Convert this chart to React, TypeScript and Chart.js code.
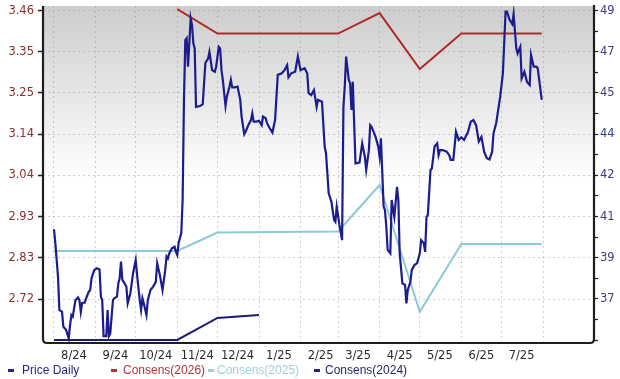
import React, { useEffect, useRef } from "react";
import { Chart, registerables } from "chart.js";

Chart.register(...registerables);

// x values are day offsets from 2024-08-01
const priceDays = [
  0, 1, 3, 4, 6, 7, 9, 11, 12, 13, 14, 16, 18, 19, 20, 21, 23, 24, 26, 27, 28, 30, 32, 34, 35, 36, 37, 39, 40, 41,
  42, 44, 45, 47, 48, 49, 50, 51, 52, 54, 55, 57, 59, 61, 62, 64, 65, 66, 67, 69, 70, 72, 74, 76, 77, 79, 81, 83, 84, 85,
  86, 88, 90, 91, 92, 93, 95, 96, 97, 98, 99, 100, 101, 102, 103, 104, 105, 106, 109, 111, 113, 115, 116, 118, 120, 121, 123, 124, 125, 126,
  128, 129, 131, 132, 133, 135, 137, 139, 140, 142, 143, 145, 147, 148, 149, 151, 153, 155, 156, 158, 159, 161, 163, 165, 167, 170, 172, 174, 175, 177,
  180, 182, 184, 187, 189, 190, 192, 194, 196, 197, 200, 202, 203, 205, 207, 209, 210, 211, 213, 215, 216, 217, 218, 220, 221, 222, 223, 225, 228, 230,
  232, 233, 235, 236, 237, 240, 242, 243, 244, 246, 247, 248, 249, 251, 252, 254, 256, 257, 258, 260, 262, 263, 264, 266, 267, 269, 271, 273, 274, 276,
  277, 278, 279, 281, 282, 284, 286, 287, 288, 290, 293, 295, 296, 298, 300, 302, 304, 306, 309, 311, 313, 315, 317, 319, 321, 323, 325, 327, 328, 330,
  333, 335, 337, 338, 340, 342, 343, 345, 346, 348, 349, 351, 353, 355, 356, 358, 360, 361, 364,
];
const priceValues = [
  2.899, 2.864, 2.777, 2.692, 2.687, 2.649, 2.641, 2.619, 2.653, 2.679, 2.675, 2.717, 2.724, 2.717, 2.687, 2.71, 2.711, 2.722, 2.739, 2.743, 2.773, 2.794, 2.799, 2.796, 2.726, 2.717, 2.625, 2.625, 2.692, 2.625,
  2.632, 2.717, 2.722, 2.726, 2.76, 2.773, 2.816, 2.769, 2.764, 2.752, 2.709, 2.735, 2.786, 2.82, 2.782, 2.717, 2.692, 2.722, 2.709, 2.679, 2.717, 2.743, 2.752, 2.764, 2.812, 2.782, 2.743, 2.794, 2.829, 2.824,
  2.837, 2.85, 2.854, 2.841, 2.833, 2.864, 2.889, 2.974, 3.231, 3.384, 3.389, 3.316, 3.376, 3.44, 3.423, 3.376, 3.363, 3.213, 3.215, 3.22, 3.326, 3.337, 3.354, 3.307, 3.303, 3.316, 3.367, 3.363, 3.307, 3.282,
  3.215, 3.239, 3.265, 3.282, 3.263, 3.263, 3.265, 3.231, 3.188, 3.143, 3.149, 3.166, 3.179, 3.196, 3.175, 3.175, 3.177, 3.166, 3.188, 3.184, 3.171, 3.158, 3.147, 3.179, 3.295, 3.299, 3.307, 3.32, 3.289, 3.299,
  3.303, 3.342, 3.307, 3.312, 3.299, 3.248, 3.243, 3.256, 3.213, 3.231, 3.226, 3.111, 3.094, 2.991, 2.97, 2.923, 2.918, 2.957, 2.91, 2.871, 3.213, 3.265, 3.342, 3.282, 3.273, 3.205, 3.277, 3.068, 3.07, 3.119,
  3.085, 3.051, 3.102, 3.166, 3.162, 3.136, 3.111, 3.085, 3.132, 2.957, 2.948, 2.906, 2.846, 2.837, 2.974, 2.931, 3.008, 2.974, 2.837, 2.76, 2.756, 2.709, 2.743, 2.764, 2.794, 2.807, 2.812, 2.837, 2.871, 2.863,
  2.841, 2.931, 2.936, 3.051, 3.055, 3.111, 3.119, 3.089, 3.102, 3.102, 3.098, 3.089, 3.077, 3.077, 3.149, 3.128, 3.135, 3.128, 3.149, 3.175, 3.179, 3.166, 3.124, 3.136, 3.098, 3.081, 3.078, 3.098, 3.145, 3.171,
  3.239, 3.299, 3.457, 3.457, 3.436, 3.425, 3.451, 3.363, 3.35, 3.367, 3.286, 3.303, 3.277, 3.269, 3.346, 3.316, 3.316, 3.312, 3.231,
];

const cons2026Days = [92, 122, 212, 243, 273, 304, 364];
const cons2026Values = [48.77, 47.8, 47.8, 48.61, 46.4, 47.8, 47.8];
const cons2025Days = [0, 92, 122, 212, 243, 273, 304, 364];
const cons2025Values = [39.2, 39.2, 39.93, 39.97, 41.81, 36.79, 39.48, 39.48];
const cons2024Days = [0, 92, 122, 153];
const cons2024Values = [35.68, 35.68, 36.55, 36.67];

const monthStartDays = [0, 31, 61, 92, 122, 153, 184, 212, 243, 273, 304, 334, 365];
const monthLabels = ["8/24", "9/24", "10/24", "11/24", "12/24", "1/25", "2/25", "3/25", "4/25", "5/25", "6/25", "7/25", ""];

const priceTickValues = [2.72, 2.8257, 2.9314, 3.0371, 3.1429, 3.2486, 3.3543, 3.46];
const priceTickLabels = ["2.72", "2.83", "2.93", "3.04", "3.14", "3.25", "3.35", "3.46"];
const consTickValues = [37.3, 38.93, 40.56, 42.19, 43.82, 45.45, 47.08, 48.71];
const consTickLabels = ["37", "39", "41", "42", "44", "45", "47", "49"];

const legendItems = [
  { label: "Price Daily", color: "#26268a", dash: 8, text: 22 },
  { label: "Consens(2026)", color: "#b03434", dash: 111, text: 123 },
  { label: "Consens(2025)", color: "#9fcfdc", dash: 208, text: 217 },
  { label: "Consens(2024)", color: "#26266e", dash: 314, text: 325 },
];

const toXY = (xs: number[], ys: number[]) => xs.map((x, i) => ({ x, y: ys[i] }));

const bgPlugin = {
  id: "bgPlugin",
  beforeDraw(chart: any) {
    const { ctx, chartArea } = chart;
    const { left, top, right, bottom } = chartArea;
    const g = ctx.createLinearGradient(0, top, 0, bottom);
    g.addColorStop(0, "#cdcdcd");
    g.addColorStop(0.52, "#ffffff");
    g.addColorStop(1, "#ffffff");
    ctx.save();
    ctx.fillStyle = g;
    ctx.fillRect(left, top, right - left, bottom - top);
    ctx.restore();
  },
  afterDraw(chart: any) {
    const { ctx, chartArea } = chart;
    const { left, top, right, bottom } = chartArea;
    const r = 4;
    ctx.save();
    ctx.strokeStyle = "#1e1e1e";
    ctx.lineWidth = 2.2;
    ctx.beginPath();
    ctx.moveTo(left, top);
    ctx.lineTo(left, bottom - r);
    ctx.quadraticCurveTo(left, bottom, left + r, bottom);
    ctx.lineTo(right - r, bottom);
    ctx.quadraticCurveTo(right, bottom, right, bottom - r);
    ctx.lineTo(right, top - 1);
    ctx.stroke();
    ctx.restore();
  },
};

export default function App() {
  const ref = useRef<HTMLCanvasElement | null>(null);

  useEffect(() => {
    if (!ref.current) return;
    const consStep = (consTickValues[1] - consTickValues[0]) / 4;
    const gridColor = "rgba(150,150,150,0.45)";
    const chart = new Chart(ref.current, {
      type: "line",
      data: {
        datasets: [
          {
            label: "Price Daily",
            data: toXY(priceDays, priceValues),
            yAxisID: "y",
            borderColor: "#1c1c8e",
            borderWidth: 2.2,
            pointRadius: 0,
            tension: 0,
          },
          {
            label: "Consens(2026)",
            data: toXY(cons2026Days, cons2026Values),
            yAxisID: "y1",
            borderColor: "#b02a2a",
            borderWidth: 2,
            pointRadius: 0,
          },
          {
            label: "Consens(2025)",
            data: toXY(cons2025Days, cons2025Values),
            yAxisID: "y1",
            borderColor: "#8ccad8",
            borderWidth: 2,
            pointRadius: 0,
          },
          {
            label: "Consens(2024)",
            data: toXY(cons2024Days, cons2024Values),
            yAxisID: "y1",
            borderColor: "#1c1c78",
            borderWidth: 2,
            pointRadius: 0,
          },
        ],
      },
      options: {
        animation: false,
        responsive: false,
        devicePixelRatio: 1,
        layout: { padding: { top: 6, left: 0, right: 0, bottom: 0 } },
        plugins: { legend: { display: false }, tooltip: { enabled: false } },
        scales: {
          x: {
            type: "linear",
            min: -8.2,
            max: 403,
            border: { display: false, dash: [2, 3] },
            grid: {
              color: gridColor,
              drawTicks: false,
              borderDash: [2, 3],
            } as any,
            ticks: {
              autoSkip: false,
              maxRotation: 0,
              labelOffset: 20,
              padding: 6,
              color: "#2a2a2a",
              font: { family: "DejaVu Sans", size: 11.5 },
              callback: (_v: any, i: number) => monthLabels[i] ?? "",
            },
            afterBuildTicks: (s: any) => {
              s.ticks = monthStartDays.map((v) => ({ value: v }));
            },
            afterFit: (s: any) => {
              s.height = 36;
              s.paddingLeft = 0;
              s.paddingRight = 0;
            },
          },
          y: {
            type: "linear",
            position: "left",
            min: 2.6072,
            max: 3.4716,
            border: { display: false, dash: [2, 3] },
            grid: {
              color: gridColor,
              borderDash: [2, 3],
              drawTicks: true,
              tickLength: 5,
              tickColor: "#1e1e1e",
              tickWidth: 1.5,
              tickBorderDash: [],
            } as any,
            ticks: {
              padding: 4,
              color: "#8a2e2e",
              font: { family: "DejaVu Sans", size: 11.5 },
              callback: (_v: any, i: number) => priceTickLabels[i] ?? "",
            },
            afterBuildTicks: (s: any) => {
              s.ticks = priceTickValues.map((v) => ({ value: v }));
            },
            afterFit: (s: any) => {
              s.width = 43;
              s.paddingTop = 0;
              s.paddingBottom = 0;
            },
          },
          y1: {
            type: "linear",
            position: "right",
            min: 35.559,
            max: 48.891,
            border: { display: false },
            grid: {
              drawOnChartArea: false,
              drawTicks: true,
              tickLength: 4,
              tickColor: "#1e1e1e",
              tickWidth: 1.2,
              tickBorderDash: [],
            } as any,
            ticks: {
              padding: 2,
              color: "#3a3a8e",
              font: { family: "DejaVu Sans", size: 11.5 },
              callback: (_v: any, i: number, ticks: any[]) => {
                const t = ticks[i];
                return t && t.lbl ? t.lbl : "";
              },
            },
            afterBuildTicks: (s: any) => {
              const out: any[] = [];
              for (let k = -4; k < consTickValues.length * 4 - 3; k++) {
                const major = k >= 0 && k % 4 === 0;
                const v = major ? consTickValues[k / 4] : consTickValues[0] + k * consStep;
                if (v < 35.559 || v > 48.891) continue;
                out.push({ value: v, lbl: major ? consTickLabels[k / 4] : "" });
              }
              s.ticks = out;
            },
            afterFit: (s: any) => {
              s.width = 26;
              s.paddingTop = 0;
              s.paddingBottom = 0;
            },
          },
        },
      },
      plugins: [bgPlugin],
    });
    return () => chart.destroy();
  }, []);

  return (
    <div
      style={{
        position: "fixed",
        left: 0,
        top: 0,
        width: 620,
        height: 379,
        background: "#ffffff",
        overflow: "hidden",
      }}
    >
      <canvas ref={ref} width={620} height={379} style={{ width: 620, height: 379, display: "block" }} />
      {legendItems.map((it) => (
        <React.Fragment key={it.label}>
          <div
            style={{
              position: "absolute",
              left: it.dash,
              top: 369,
              width: 6,
              height: 3,
              background: it.color,
            }}
          />
          <div
            style={{
              position: "absolute",
              left: it.text,
              top: 362,
              color: it.color,
              font: "12px 'Liberation Sans', Arial, sans-serif",
              whiteSpace: "nowrap",
              lineHeight: "16px",
            }}
          >
            {it.label}
          </div>
        </React.Fragment>
      ))}
    </div>
  );
}
